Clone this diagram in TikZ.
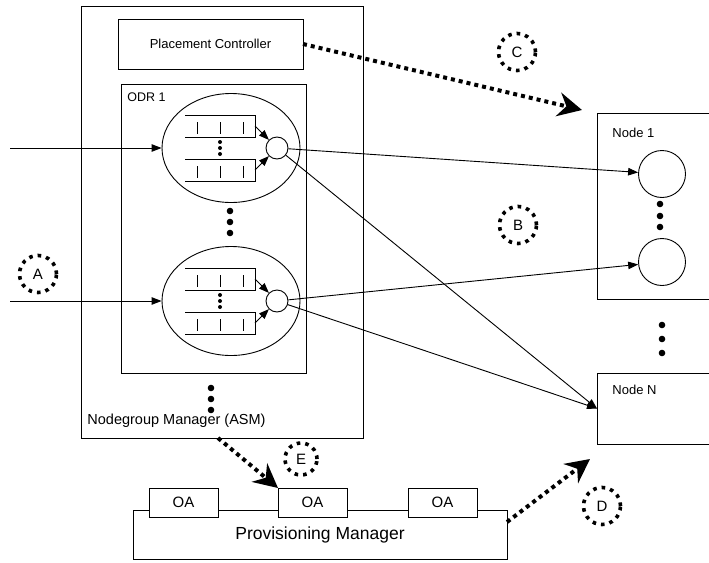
\documentclass[tikz,border=0pt]{standalone}
\usepackage{fontspec}
\setmainfont{Liberation Sans}
\usetikzlibrary{arrows.meta,shapes.geometric}
\newcommand\qpair[3]{%
  \node[qbox] (#1a) at (185,#2-33) {};
  \node[qbox] (#1b) at (185,#2+11) {};
  \foreach \q in {#1a,#1b}{
    \draw (\q.north west) -- (\q.north east) -- (\q.south east) -- (\q.south west);
    \foreach \dx in {12,35,58} \draw ([xshift=\dx pt,yshift=-7pt]\q.north west) -- ++(0,12);
  }
  \draw[thinarrow] (#1a.east) -- (#3);
  \draw[thinarrow] (#1b.east) -- (#3);
  \foreach \dy in {-6,0,6} \fill (220,#2+\dy) circle (2);
}
\begin{document}
\begin{tikzpicture}[x=1pt,y=-1pt,line width=0.9pt,
  box/.style={draw, rectangle, inner sep=0pt, outer sep=0pt, anchor=north west},
  qbox/.style={rectangle, inner sep=0pt, outer sep=0pt, minimum width=70pt, minimum height=22pt, anchor=north west},
  thinarrow/.style={-{Triangle[length=10pt,width=7.5pt]}},
  fatdots/.style={line width=4pt, dash pattern=on 4pt off 4pt, -{Stealth[length=24pt,width=24pt,inset=8pt]}},
  lbl/.style={circle, draw, line width=3.6pt, dash pattern=on 3.6pt off 5pt, minimum size=37pt, inner sep=0pt, font=\fontsize{15}{15}\selectfont},
  smallc/.style={circle, draw, minimum size=22pt, inner sep=0pt},
  bigc/.style={circle, draw, minimum size=47pt, inner sep=0pt},
  txt/.style={inner sep=0pt, anchor=west, font=\fontsize{13}{15}\selectfont},
]
\useasboundingbox (0,0) rectangle (709,562);

% Nodegroup manager
\node[box, minimum width=282pt, minimum height=432pt] (ngm) at (81,6) {};
\node[txt, font=\fontsize{14.5}{16}\selectfont] (ngmt) at (87,421) {Nodegroup Manager (ASM)};
\node[box, minimum width=185pt, minimum height=50pt, font=\fontsize{13}{15}\selectfont] (pc) at (118,19) {Placement Controller};
\node[box, minimum width=185pt, minimum height=289pt] (odr) at (121,84) {};
\node[txt, font=\fontsize{12.5}{15}\selectfont] (odrt) at (127,97) {ODR 1};

% ellipses
\node[ellipse, draw, minimum width=138pt, minimum height=109pt, inner sep=0pt] (e1) at (231,148) {};
\node[ellipse, draw, minimum width=138pt, minimum height=109pt, inner sep=0pt] (e2) at (231,301) {};
\node[smallc] (s1) at (277,148) {};
\node[smallc] (s2) at (277,301) {};
\qpair{qa}{148}{s1}
\qpair{qb}{301}{s2}
\foreach \y in {211,222,233} \fill (230,\y) circle (3.3);
\foreach \y in {388,399,410} \fill (211,\y) circle (3.3);

% incoming
\coordinate (in1) at (10,148);
\coordinate (in2) at (10,301);
\draw[thinarrow] (in1) -- (e1.west);
\draw[thinarrow] (in2) -- (e2.west);

% Node 1
\node[rectangle, inner sep=0pt, outer sep=0pt, minimum width=112pt, minimum height=186pt, anchor=north west] (n1) at (597,113) {};
\draw (n1.north east) -- (n1.north west) -- (n1.south west) -- (n1.south east);
\node[txt] (n1t) at (612,133) {Node 1};
\node[bigc] (c1) at (662,174) {};
\node[bigc] (c2) at (662,262) {};
\foreach \y in {204,216,227} \fill (660,\y) circle (3.3);
\foreach \y in {325,339,353} \fill (662,\y) circle (3.3);

% Node N
\node[rectangle, inner sep=0pt, outer sep=0pt, minimum width=112pt, minimum height=71pt, anchor=north west] (nN) at (597,373) {};
\draw (nN.north east) -- (nN.north west) -- (nN.south west) -- (nN.south east);
\node[txt] (nNt) at (612,390) {Node N};

% connections
\draw[thinarrow] (s1) -- (c1);
\draw[thinarrow] (s1) -- (nN.west);
\draw[thinarrow] (s2) -- (c2);
\draw[thinarrow] (s2) -- (nN.west);

% Provisioning manager
\node[box, minimum width=374pt, minimum height=49pt, font=\fontsize{17.5}{20}\selectfont] (pm) at (133,510) {\raisebox{-2pt}{Provisioning Manager}};
\node[box, fill=white, minimum width=69pt, minimum height=29pt, font=\fontsize{15}{17}\selectfont] (oa1) at (149,488) {OA};
\node[box, fill=white, minimum width=69pt, minimum height=29pt, font=\fontsize{15}{17}\selectfont] (oa2) at (278,488) {OA};
\node[box, fill=white, minimum width=69pt, minimum height=29pt, font=\fontsize{15}{17}\selectfont] (oa3) at (408,488) {OA};

% fat dotted arrows
\coordinate (cEnd) at (582,110);
\coordinate (eStart) at (218,438);
\coordinate (dStart) at (507,522);
\coordinate (dEnd) at (590,459);
\draw[fatdots] (pc.east) -- (cEnd);
\draw[fatdots] (eStart) -- (oa2.north west);
\draw[fatdots] (dStart) -- (dEnd);

% labels
\node[lbl] (lA) at (38,274) {A};
\node[lbl] (lB) at (518,225) {B};
\node[lbl] (lC) at (517,52) {C};
\node[lbl] (lD) at (602,506) {D};
\node[lbl, minimum size=32pt] (lE) at (301,459) {E};
\end{tikzpicture}
\end{document}
